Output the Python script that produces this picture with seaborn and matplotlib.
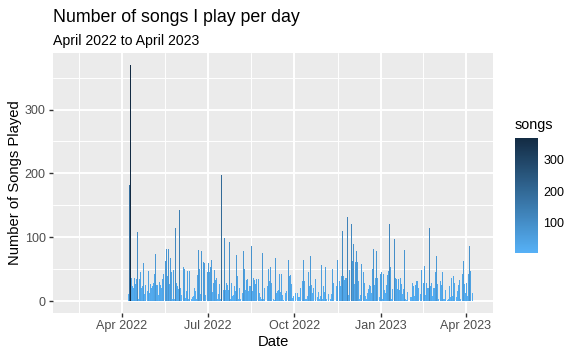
import pandas as pd
import matplotlib
matplotlib.use("Agg")
import matplotlib.pyplot as plt
import matplotlib.dates as mdates
from matplotlib.cm import ScalarMappable
from matplotlib.colors import LinearSegmentedColormap, Normalize
import seaborn as sns

# ---------- Data: songs per day in ~2 month stretches ----------
stretch_dates = [
    ("2022-04-08", "2022-06-05"),
    ("2022-06-06", "2022-08-07"),
    ("2022-08-08", "2022-10-10"),
    ("2022-10-11", "2022-12-13"),
    ("2022-12-14", "2023-02-15"),
    ("2023-02-16", "2023-04-08"),
]

songs_apr_jun = [11, 182, 370, 36, 23, 20, 39, 36, 27, 35, 109, 3, 35, 45, 21, 23,
                 60, 11, 25, 16, 47, 13, 27, 19, 21, 24, 29, 42, 74, 25, 25, 9,
                 30, 25, 20, 35, 42, 63, 81, 62, 40, 82, 27, 68, 45, 3, 49, 3,
                 115, 28, 23, 19, 143, 21, 9, 8]
songs_jun_aug = [53, 50, 5, 16, 47, 3, 47, 0, 3, 6, 8, 20, 16, 3, 41, 80, 50, 16,
                 12, 78, 62, 60, 9, 0, 46, 59, 46, 53, 64, 14, 29, 49, 33, 30, 36,
                 4, 11, 27, 4, 198, 18, 99, 18, 28, 26, 17, 93, 4, 29, 20, 8, 9,
                 23, 16, 72, 39, 3, 20, 3, 13]
songs_aug_oct = [78, 51, 17, 33, 35, 16, 74, 23, 23, 87, 16, 36, 33, 27, 35, 35,
                 13, 7, 3, 75, 3, 21, 8, 0, 0, 23, 50, 32, 54, 28, 3, 2, 67, 13,
                 16, 17, 42, 15, 50, 42, 9, 2, 0, 13, 16, 64, 39, 41, 27, 5, 8, 0,
                 13, 0, 0, 13, 6, 6, 21, 32]
songs_oct_dec = [64, 31, 4, 4, 8, 46, 24, 71, 25, 13, 20, 82, 35, 0, 7, 14, 3, 8,
                 57, 3, 23, 14, 53, 3, 11, 0, 23, 3, 11, 50, 28, 0, 0, 23, 64, 31,
                 23, 39, 110, 39, 33, 37, 15, 36, 131, 9, 49, 121, 63, 89, 27, 62,
                 79, 61, 31, 3, 9, 58, 36]
songs_dec_feb = [46, 28, 8, 3, 13, 19, 25, 23, 13, 50, 82, 25, 37, 78, 37, 2, 7,
                 42, 46, 3, 42, 17, 13, 25, 41, 48, 121, 53, 3, 19, 98, 28, 36, 35,
                 19, 35, 18, 36, 27, 11, 19, 80, 4, 2, 14, 0, 6, 7, 11, 28, 23, 8,
                 25, 31, 31, 20, 0, 11, 49, 28]
songs_feb_apr = [55, 9, 28, 20, 42, 21, 115, 23, 28, 8, 20, 21, 46, 71, 27, 3, 31,
                 25, 46, 4, 0, 4, 18, 0, 2, 4, 24, 7, 36, 8, 39, 29, 7, 16, 25, 33,
                 31, 4, 0, 42, 63, 27, 13, 28, 8, 42, 87, 47, 13]

song_stretches = [songs_apr_jun, songs_jun_aug, songs_aug_oct,
                  songs_oct_dec, songs_dec_feb, songs_feb_apr]

y_ticks = [0, 100, 200, 300]
legend_ticks = [100, 200, 300]

# ---------- Build the table ----------
frames = []
for (start, end), vals in zip(stretch_dates, song_stretches):
    days = pd.date_range(start, end, periods=len(vals)).floor("D")
    frames.append(pd.DataFrame({"date": days, "songs": vals}))
df = pd.concat(frames, ignore_index=True)
df = df[df["songs"] > 0]

# ---------- Style (ggplot grey look) ----------
sns.set_theme(style="darkgrid", rc={
    "axes.facecolor": "#EBEBEB",
    "grid.color": "white",
    "axes.edgecolor": "#EBEBEB",
    "text.color": "black",
    "axes.labelcolor": "black",
})
plt.rcParams["font.family"] = ["Liberation Sans", "DejaVu Sans"]

cmap = LinearSegmentedColormap.from_list("gg", ["#56B1F7", "#132B43"])
norm = Normalize(vmin=df["songs"].min(), vmax=df["songs"].max())

W, H = 581, 359
fig = plt.figure(figsize=(W / 100, H / 100), dpi=100)
ax = fig.add_axes([53 / W, 1 - 313 / H, 440 / W, 260 / H])

ax.bar(df["date"], df["songs"], width=1.0, color=cmap(norm(df["songs"])),
       linewidth=0)

ax.set_yticks(y_ticks)
ax.set_yticks([50, 150, 250, 350], minor=True)

ax.xaxis.set_major_locator(mdates.MonthLocator(bymonth=[1, 4, 7, 10]))
ax.xaxis.set_major_formatter(mdates.DateFormatter("%b %Y"))
quarters = pd.date_range("2022-01-01", "2023-04-01", freq="QS")
mids = [a + (b - a) / 2 for a, b in zip(quarters[:-1], quarters[1:])]
ax.set_xticks(mdates.date2num(mids), minor=True)

# limits last, so tick setting can't widen them
ax.set_xlim(pd.Timestamp("2022-01-18"), pd.Timestamp("2023-04-30"))
ax.set_ylim(-18.5, 388.5)

ax.grid(which="major", color="white", linewidth=1.4)
ax.grid(which="minor", color="white", linewidth=0.7)
ax.tick_params(which="major", length=2.8, width=1.0, color="#333333",
               labelsize=9, labelcolor="#4D4D4D", pad=2.5,
               bottom=True, left=True)
ax.tick_params(which="minor", length=0)
for s in ax.spines.values():
    s.set_visible(False)

ax.set_xlabel("Date", fontsize=10.6, labelpad=2)
ax.set_ylabel("Number of Songs Played", fontsize=10.6, labelpad=2)

fig.text(53 / W, 1 - 22 / H, "Number of songs I play per day", fontsize=12.8,
         va="baseline", ha="left")
fig.text(53 / W, 1 - 45 / H, "April 2022 to April 2023", fontsize=10.2,
         va="baseline", ha="left")

# ---------- Colour bar legend ----------
cax = fig.add_axes([515 / W, 1 - 253 / H, 23 / W, 115 / H])
cb = fig.colorbar(ScalarMappable(norm=norm, cmap=cmap), cax=cax)
cb.outline.set_visible(False)
cb.set_ticks(legend_ticks)
cb.minorticks_off()
cax.grid(False)
cax.tick_params(direction="in", length=4.5, width=1, color="white",
                left=True, right=True, labelleft=False, labelright=True,
                labelsize=9, labelcolor="black", pad=4)
fig.text(515 / W, 1 - 129 / H, "songs", fontsize=10.4, va="baseline", ha="left")

fig.savefig("out.png", dpi=100, facecolor="white")
